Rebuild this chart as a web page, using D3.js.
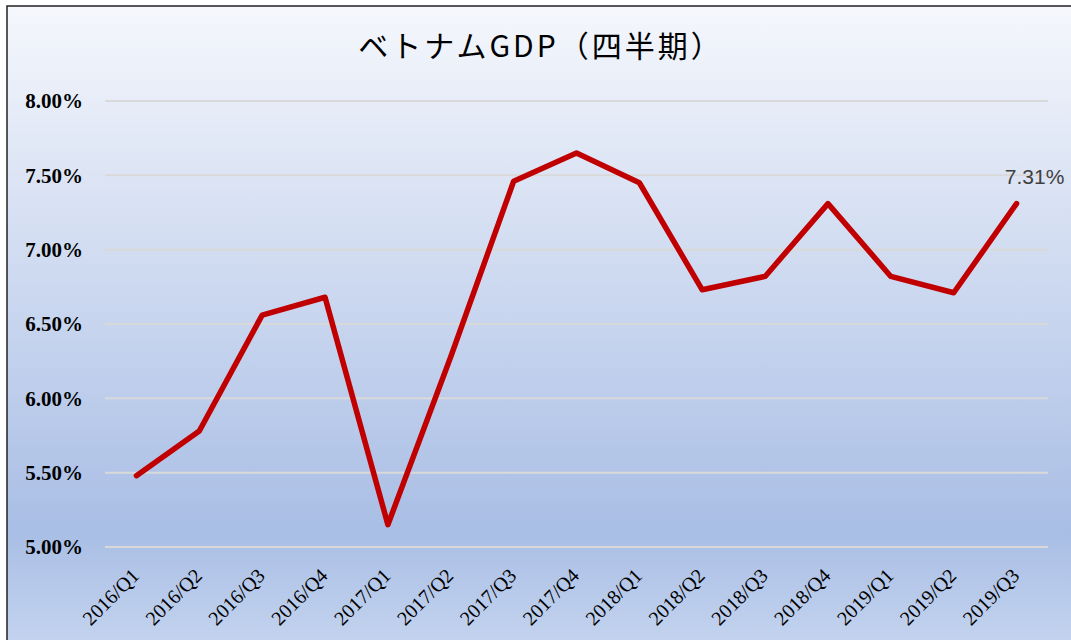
<!DOCTYPE html>
<html>
<head>
<meta charset="utf-8">
<script src="https://cdn.jsdelivr.net/npm/d3@7"></script>
<style>
  body { margin: 0; background: #fff; }
</style>
</head>
<body>
<script>
// Chart data
const quarters = ["2016/Q1", "2016/Q2", "2016/Q3", "2016/Q4", "2017/Q1", "2017/Q2", "2017/Q3", "2017/Q4",
  "2018/Q1", "2018/Q2", "2018/Q3", "2018/Q4", "2019/Q1", "2019/Q2", "2019/Q3"];
const growth = [5.48, 5.78, 6.56, 6.68, 5.15, 6.28, 7.46, 7.65, 7.45, 6.73, 6.82, 7.31, 6.82, 6.71, 7.31];
const yTicks = [5.0, 5.5, 6.0, 6.5, 7.0, 7.5, 8.0];
const titleText = "ベトナムGDP（四半期）";

let width = 1071;
let height = 640;
let margin = { top: 101, bottom: 93, left: 105, right: 23 };

let svg = d3.select("body")
  .append("svg")
  .attr("width", width)
  .attr("height", height);

// Background gradient
let grad = svg.append("defs").append("linearGradient")
  .attr("id", "bg")
  .attr("x1", 0).attr("y1", 0).attr("x2", 0).attr("y2", 1);
grad.append("stop").attr("offset", "0%").attr("stop-color", "#f5f7fc");
grad.append("stop").attr("offset", "82%").attr("stop-color", "#a9bee5");
grad.append("stop").attr("offset", "100%").attr("stop-color", "#c4d4ef");

svg.append("rect")
  .attr("x", 7).attr("y", 6)
  .attr("width", width - 6).attr("height", height)
  .attr("fill", "url(#bg)")
  .attr("stroke", "#222")
  .attr("stroke-width", 1.5);

// Scales
let xScale = d3.scaleBand()
  .domain(quarters)
  .range([margin.left, width - margin.right]);

let yScale = d3.scaleLinear()
  .domain([5, 8])
  .range([height - margin.bottom, margin.top]);

// Gridlines
svg.append("g")
  .selectAll("line")
  .data(yTicks)
  .enter()
  .append("line")
  .attr("x1", margin.left)
  .attr("x2", width - margin.right)
  .attr("y1", d => yScale(d))
  .attr("y2", d => yScale(d))
  .attr("stroke", "#d9d9d9")
  .attr("stroke-width", 2);

// Y axis labels
let yAxis = svg.append("g")
  .attr("transform", `translate(${margin.left}, 0)`)
  .call(d3.axisLeft(yScale).tickValues(yTicks).tickFormat(d => d.toFixed(2) + "%").tickSize(0).tickPadding(22));
yAxis.select(".domain").remove();
yAxis.selectAll("text")
  .style("font-family", "'Liberation Serif', 'Times New Roman', serif")
  .style("font-weight", "bold")
  .style("font-size", "21px")
  .attr("fill", "#000");

// X axis labels
let xAxis = svg.append("g")
  .attr("transform", `translate(0, ${height - margin.bottom})`)
  .call(d3.axisBottom(xScale).tickSize(0).tickPadding(0));
xAxis.select(".domain").remove();
xAxis.selectAll("text")
  .style("font-family", "'Liberation Serif', 'Times New Roman', serif")
  .style("font-size", "20px")
  .attr("fill", "#000")
  .attr("text-anchor", "end")
  .attr("y", 0)
  .attr("dy", "0.7em")
  .attr("transform", "translate(-6, 20) rotate(-45)");

// Line
let line = d3.line()
  .x((d, i) => xScale(quarters[i]) + xScale.bandwidth() / 2)
  .y(d => yScale(d));

svg.append("path")
  .datum(growth)
  .attr("d", line)
  .attr("fill", "none")
  .attr("stroke", "#c00000")
  .attr("stroke-width", 5.5)
  .attr("stroke-linejoin", "round")
  .attr("stroke-linecap", "round");

// Last point label
let last = growth.length - 1;
svg.append("text")
  .attr("x", xScale(quarters[last]) + xScale.bandwidth() / 2 + 18)
  .attr("y", yScale(growth[last]) - 20)
  .attr("text-anchor", "middle")
  .style("font-family", "'Liberation Sans', Arial, sans-serif")
  .style("font-size", "21px")
  .attr("fill", "#404040")
  .text(growth[last].toFixed(2) + "%");

// Title
svg.append("text")
  .attr("x", 541)
  .attr("y", 57)
  .attr("text-anchor", "middle")
  .style("font-family", "'Noto Sans CJK JP', sans-serif")
  .style("font-size", "30px")
  .style("letter-spacing", "3px")
  .attr("fill", "#000")
  .text(titleText);
</script>
</body>
</html>
